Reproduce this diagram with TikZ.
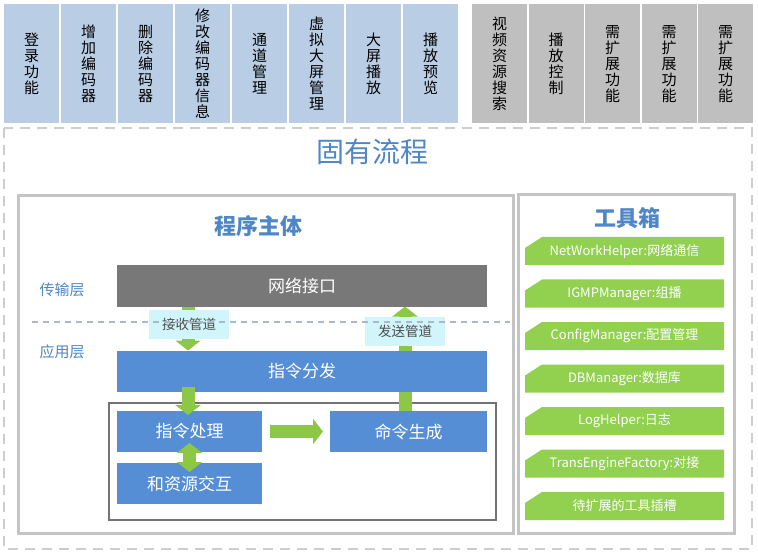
\documentclass[tikz,border=0pt]{standalone}
\usepackage{fontspec}
\setmainfont{Noto Sans CJK SC}
\usepackage{xcolor}
\usepackage{tikz}
\usetikzlibrary{arrows.meta, positioning}
\definecolor{topblue}{RGB}{185,205,228}
\definecolor{topgray}{RGB}{191,191,191}
\definecolor{framegray}{RGB}{205,205,205}
\definecolor{panelgray}{RGB}{196,196,196}
\definecolor{titleblue}{RGB}{79,135,198}
\definecolor{netgray}{RGB}{120,120,120}
\definecolor{cmdblue}{RGB}{85,142,213}
\definecolor{pipegreen}{RGB}{140,200,70}
\definecolor{pipecyan}{RGB}{208,245,250}
\definecolor{toolgreen}{RGB}{146,208,80}
\definecolor{layergray}{RGB}{170,185,200}

\begin{document}
\begin{tikzpicture}[x=1pt, y=-1pt,
    every node/.style={inner sep=0pt, outer sep=0pt},
    funcbox/.style={rectangle, fill=topblue, minimum width=55pt, minimum height=119pt, align=center, font=\fontsize{15}{16}\selectfont},
    extbox/.style={funcbox, fill=topgray},
    panel/.style={draw=panelgray, line width=3pt},
    paneltitle/.style={text=titleblue, font=\fontsize{22}{24}\selectfont\bfseries},
    layertext/.style={text=titleblue, font=\fontsize{15}{17}\selectfont},
    cmdbox/.style={rectangle, fill=cmdblue, text=white, minimum height=41pt, font=\fontsize{17}{19}\selectfont},
    pipelabel/.style={rectangle, fill=pipecyan, text=black!70, minimum width=80pt, minimum height=29pt, font=\fontsize{13.5}{15}\selectfont},
    fatarrow/.style={draw=pipegreen, line width=13pt, -{Triangle[width=25pt, length=10pt]}},
    toolitem/.style={rectangle, fill=white, minimum width=199pt, minimum height=28pt, text=white, font=\fontsize{13}{15}\selectfont,
        path picture={\fill[toolgreen] ([yshift=-11pt]path picture bounding box.north west) -- ([xshift=17pt]path picture bounding box.north west)
            -- (path picture bounding box.north east) -- (path picture bounding box.south east) -- (path picture bounding box.south west) -- cycle;}}]

    \useasboundingbox[fill=white] (0,0) rectangle (758,556);

    % functions on top
    \foreach \t [count=\i] in {{登\\录\\功\\能}, {增\\加\\编\\码\\器}, {删\\除\\编\\码\\器}, {修\\改\\编\\码\\器\\信\\息},
        {通\\道\\管\\理}, {虚\\拟\\大\\屏\\管\\理}, {大\\屏\\播\\放}, {播\\放\\预\\览}}
        \node[funcbox] (f\i) at ({31.5+57*(\i-1)},64) {\t};
    \foreach \t [count=\i] in {{视\\频\\资\\源\\搜\\索}, {播\\放\\控\\制}, {需\\扩\\展\\功\\能}, {需\\扩\\展\\功\\能}, {需\\扩\\展\\功\\能}}
        \node[extbox] (e\i) at ({499.5+56.5*(\i-1)},64) {\t};

    % fixed flow frame
    \draw[framegray, line width=2pt, dash pattern=on 10pt off 7pt] (4,128) rectangle (752,549);
    \node[text=titleblue, font=\fontsize{28}{30}\selectfont] (fixed) at (372,152) {固有流程};

    % program body
    \draw[panel] (18.5,195.5) rectangle (513.5,533.5);
    \node[paneltitle] (bodytitle) at (258,226) {程序主体};
    \node[layertext] (trans) at (62,290) {传输层};
    \node[layertext] (app) at (62,352) {应用层};

    \node[cmdbox, fill=netgray, minimum width=370pt] (net) at (302,286) {网络接口};
    \node[cmdbox, minimum width=370pt] (disp) at (302,371) {指令分发};
    \draw[black!55, line width=1.5pt] (109,403) rectangle (496,520);
    \node[cmdbox, minimum width=145pt] (proc) at (189.5,431.5) {指令处理};
    \node[cmdbox, minimum width=157pt, right=68pt of proc] (gen) {命令生成};
    \node[cmdbox, minimum width=145pt, below=11pt of proc] (res) {和资源交互};

    \draw[fatarrow] ([xshift=71pt]net.south west) -- ([xshift=71pt]disp.north west);
    \draw[fatarrow] ([xshift=-82pt]disp.north east) -- ([xshift=-82pt]net.south east);
    \draw[fatarrow] ([xshift=71pt, yshift=5pt]disp.south west) -- ([xshift=-1.5pt, yshift=-4pt]proc.north);
    \draw[draw=pipegreen, line width=13pt] ([xshift=-82pt]gen.north east) -- ([xshift=-82pt]disp.south east);
    \draw[fatarrow] ([xshift=8pt]proc.east) -- ([xshift=-7pt]gen.west);
    \draw[fatarrow, {Triangle[width=25pt, length=10pt]}-{Triangle[width=25pt, length=10pt]}] ([yshift=9pt]proc.south) -- ([yshift=-9pt]res.north);

    \node[pipelabel] (recv) at (189,324) {接收管道};
    \node[pipelabel] (send) at (405,331) {发送管道};
    \draw[layergray, line width=1.2pt, dash pattern=on 6pt off 5pt] (32,322) -- (510,322);

    % toolbox
    \draw[panel] (518.5,195) rectangle (734,533);
    \node[paneltitle] (tooltitle) at (627,218) {工具箱};
    \foreach \t [count=\i] in {NetWorkHelper:网络通信, IGMPManager:组播, ConfigManager:配置管理, DBManager:数据库,
        LogHelper:日志, TransEngineFactory:对接, 待扩展的工具插槽}
        \node[toolitem] (t\i) at (624.5,{251+42.5*(\i-1)}) {\t};
\end{tikzpicture}
\end{document}
